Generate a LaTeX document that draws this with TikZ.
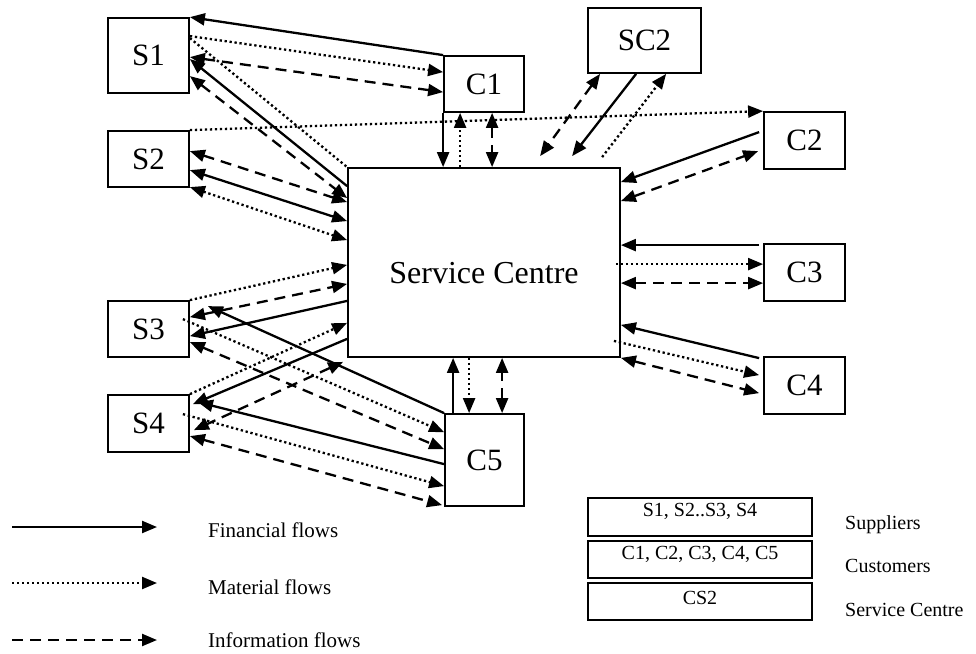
\documentclass[tikz,border=0pt]{standalone}
\usepackage{fontspec}
\setmainfont{Liberation Serif}
\usetikzlibrary{arrows.meta}
\tikzset{
  box/.style={draw, line width=1.8pt, inner sep=0pt, font=\fontsize{31}{37}\selectfont},
  lbox/.style={draw, line width=1.8pt, inner sep=0pt, minimum width=224pt},
  ltext/.style={font=\fontsize{20}{24}\selectfont, inner sep=0pt},
  legtext/.style={font=\fontsize{21}{25}\selectfont, inner sep=0pt, anchor=base west},
  fin/.style={line width=2.3pt},
  mat/.style={line width=2.3pt, dash pattern=on 2.3pt off 2.7pt},
  inf/.style={line width=2.3pt, dash pattern=on 11pt off 7pt},
}
\begin{document}
\begin{tikzpicture}[x=1pt, y=-1pt, >={Triangle[length=15pt,width=12pt]}]
\useasboundingbox (0,0) rectangle (976,653);

% boxes
\node[box, minimum width=81pt, minimum height=75pt] (S1) at (148.5,55.5) {S1};
\node[box, minimum width=81pt, minimum height=56pt] (S2) at (148.5,159) {S2};
\node[box, minimum width=81pt, minimum height=56pt] (S3) at (148.5,329) {S3};
\node[box, minimum width=81pt, minimum height=57pt] (S4) at (148.5,423.5) {S4};
\node[box, minimum width=80pt, minimum height=56pt] (C1) at (484,84) {C1};
\node[box, minimum width=113pt, minimum height=65pt] (SC2) at (644.5,40.5) {SC2};
\node[box, minimum width=81pt, minimum height=57pt] (C2) at (804.5,140.5) {C2};
\node[box, minimum width=81pt, minimum height=57pt] (C3) at (804.5,272.5) {C3};
\node[box, minimum width=81pt, minimum height=57pt] (C4) at (804.5,385.5) {C4};
\node[box, minimum width=79pt, minimum height=92pt] (C5) at (484.5,460) {C5};
\node[box, minimum width=272pt, minimum height=189pt] (SC) at (484,262.5) {};
\node[inner sep=0pt, font=\fontsize{32}{38}\selectfont] (SCt) at ([yshift=-11pt]SC.center) {Service Centre};

% S1
\draw[fin,->] (C1.north west) -- (S1.north east);
\draw[mat,->] ([yshift=-19pt]S1.north east) -- ([yshift=-17pt]C1.north west);
\draw[inf,<->] ([yshift=-40pt]S1.north east) -- ([yshift=-37pt]C1.north west);
\draw[fin,->] ([yshift=-19pt]SC.north west) -- ([yshift=-42pt]S1.north east);
\draw[inf,<->] ([yshift=-59pt]S1.north east) -- ([yshift=-31pt]SC.north west);
\draw[mat] ([yshift=-21pt]S1.north east) -- (SC.north west);

% S2
\draw[mat,->] (S2.north east) -- (C2.north west);
\draw[inf,<->] ([yshift=-21pt]S2.north east) -- ([yshift=-35pt]SC.north west);
\draw[fin,<->] ([yshift=-40pt]S2.north east) -- ([yshift=-54pt]SC.north west);
\draw[mat,<->] ([yshift=-57pt]S2.north east) -- ([yshift=-73pt]SC.north west);

% C1
\draw[fin,->] (C1.south west) -- ([xshift=96pt]SC.north west);
\draw[mat,->] ([xshift=113pt]SC.north west) -- ([xshift=17pt]C1.south west);
\draw[inf,<->] ([xshift=49pt]C1.south west) -- ([xshift=145pt]SC.north west);

% SC2
\draw[inf,<->] ([xshift=13pt]SC2.south west) -- ([xshift=193pt,yshift=11pt]SC.north west);
\draw[fin,->] ([xshift=49pt]SC2.south west) -- ([xshift=225pt,yshift=11pt]SC.north west);
\draw[mat,->] ([xshift=255pt,yshift=10pt]SC.north west) -- ([xshift=79pt]SC2.south west);

% C2
\draw[fin,->] ([xshift=-4pt,yshift=-21pt]C2.north west) -- ([yshift=-15pt]SC.north east);
\draw[inf,<->] ([yshift=-34pt]SC.north east) -- ([xshift=-5pt,yshift=-40pt]C2.north west);

% C3
\draw[fin,->] ([xshift=-4pt,yshift=-2pt]C3.north west) -- ([yshift=-78pt]SC.north east);
\draw[mat,->] ([xshift=-5pt,yshift=-97pt]SC.north east) -- ([yshift=-21pt]C3.north west);
\draw[inf,<->] ([yshift=-116pt]SC.north east) -- ([yshift=-40pt]C3.north west);

% C4
\draw[fin,->] ([xshift=-4pt,yshift=-2pt]C4.north west) -- ([yshift=33pt]SC.south east);
\draw[mat,->] ([xshift=-7pt,yshift=17pt]SC.south east) -- ([xshift=-4pt,yshift=-19pt]C4.north west);
\draw[inf,<->] (SC.south east) -- ([xshift=-4pt,yshift=-37pt]C4.north west);

% C5
\draw[fin,->] ([xshift=9pt]C5.north west) -- ([xshift=106pt]SC.south west);
\draw[mat,->] ([xshift=122pt]SC.south west) -- ([xshift=25pt]C5.north west);
\draw[inf,<->] ([xshift=58pt]C5.north west) -- ([xshift=155pt]SC.south west);

% S3
\draw[mat,->] (S3.north east) -- ([yshift=93pt]SC.south west);
\draw[inf,<->] ([yshift=-17pt]S3.north east) -- ([yshift=74pt]SC.south west);
\draw[fin,->] ([yshift=57pt]SC.south west) -- ([yshift=-36pt]S3.north east);
\draw[inf,<->] ([yshift=-42pt]S3.north east) -- ([yshift=-36pt]C5.north west);
\draw[mat,->] ([xshift=-7pt,yshift=-19pt]S3.north east) -- ([yshift=-19pt]C5.north west);
\draw[fin,->] (C5.north west) -- ([xshift=18pt,yshift=-6pt]S3.north east);

% S4
\draw[mat,->] (S4.north east) -- ([yshift=35pt]SC.south west);
\draw[fin,->] ([yshift=19pt]SC.south west) -- ([xshift=3pt,yshift=-10pt]S4.north east);
\draw[fin,->] ([yshift=-51pt]C5.north west) -- ([xshift=8pt,yshift=-8pt]S4.north east);
\draw[inf,<->] ([xshift=-4pt,yshift=-4pt]SC.south west) -- ([xshift=4pt,yshift=-36pt]S4.north east);
\draw[mat,->] ([xshift=-7pt,yshift=-20pt]S4.north east) -- ([yshift=-73pt]C5.north west);
\draw[inf,<->] ([yshift=-42pt]S4.north east) -- ([xshift=-2pt,yshift=-92pt]C5.north west);

% legend (left)
\coordinate (f1) at (12,527); \coordinate (f2) at (157,527);
\coordinate (m1) at (12,583); \coordinate (m2) at (157,583);
\coordinate (i1) at (12,640); \coordinate (i2) at (157,640);
\draw[fin,->] (f1) -- (f2);
\draw[mat,->] (m1) -- (m2);
\draw[inf,->] (i1) -- (i2);
\node[legtext] (tf) at (208,537) {Financial flows};
\node[legtext] (tm) at (208,594) {Material flows};
\node[legtext] (ti) at (208,647) {Information flows};

% legend (right)
\node[lbox, minimum height=38pt] (L1) at (700,517) {};
\node[lbox, minimum height=37pt] (L2) at (700,559.5) {};
\node[lbox, minimum height=37pt] (L3) at (700,601.5) {};
\node[ltext] (L1t) at ([yshift=6pt]L1.center) {S1, S2..S3, S4};
\node[ltext] (L2t) at ([yshift=5pt]L2.center) {C1, C2, C3, C4, C5};
\node[ltext] (L3t) at ([yshift=4pt]L3.center) {CS2};
\node[legtext, font=\fontsize{20}{24}\selectfont] (tsup) at (845,529) {Suppliers};
\node[legtext, font=\fontsize{20}{24}\selectfont] (tcus) at (845,572) {Customers};
\node[legtext, font=\fontsize{20}{24}\selectfont] (tsc) at (845,616) {Service Centre};
\end{tikzpicture}
\end{document}
